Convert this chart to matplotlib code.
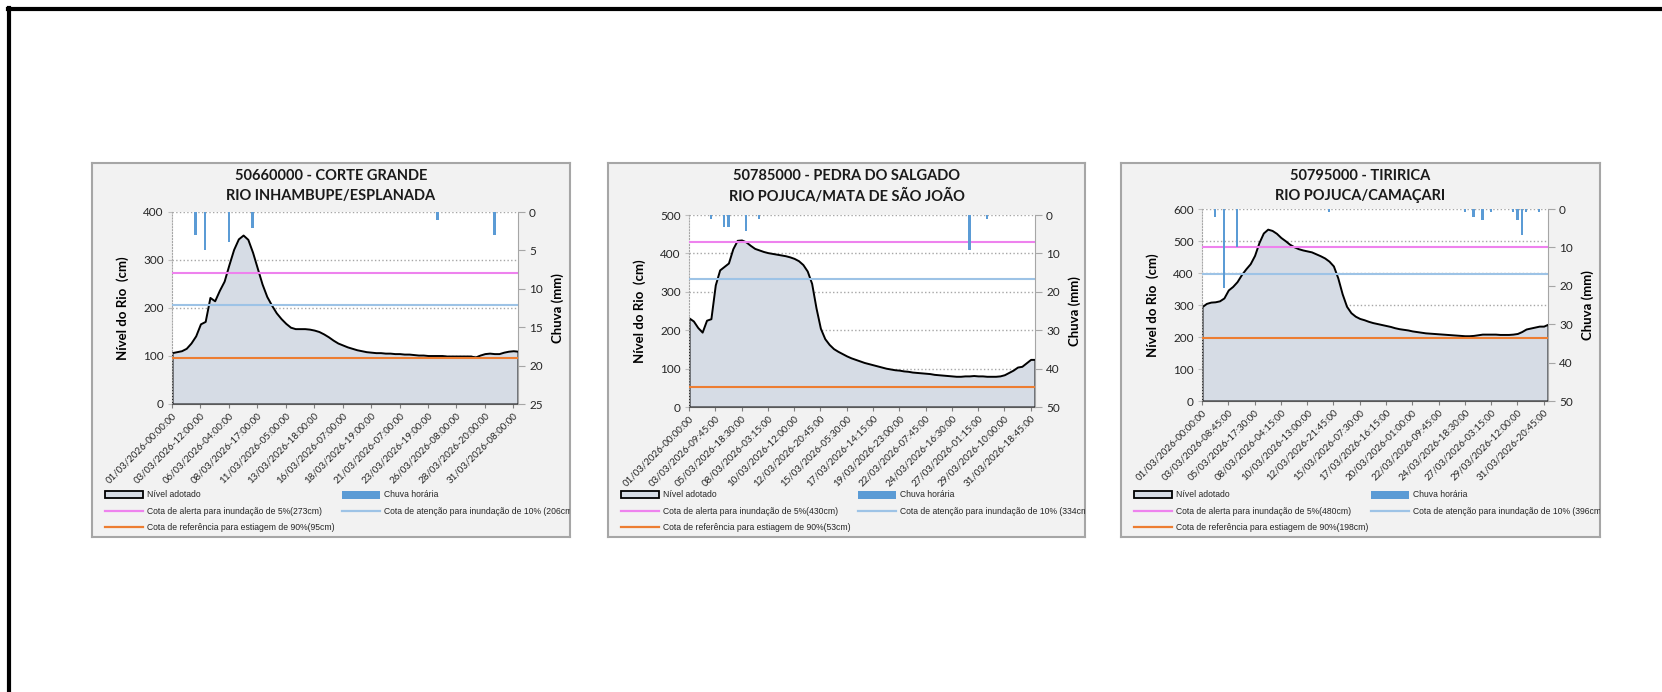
import numpy as np
import matplotlib.pyplot as plt
from matplotlib.lines import Line2D
from matplotlib.patches import Rectangle

# ---------------- dados ----------------
titulo1 = ["50660000 - CORTE GRANDE", "RIO INHAMBUPE/ESPLANADA"]
titulo2 = ["50785000 - PEDRA DO SALGADO", "RIO POJUCA/MATA DE SÃO JOÃO"]
titulo3 = ["50795000 - TIRIRICA", "RIO POJUCA/CAMAÇARI"]

rotulos1 = ["01/03/2026-00:00:00", "03/03/2026-12:00:00", "06/03/2026-04:00:00",
            "08/03/2026-17:00:00", "11/03/2026-05:00:00", "13/03/2026-18:00:00",
            "16/03/2026-07:00:00", "18/03/2026-19:00:00", "21/03/2026-07:00:00",
            "23/03/2026-19:00:00", "26/03/2026-08:00:00", "28/03/2026-20:00:00",
            "31/03/2026-08:00:00"]
rotulos2 = ["01/03/2026-00:00:00", "03/03/2026-09:45:00", "05/03/2026-18:30:00",
            "08/03/2026-03:15:00", "10/03/2026-12:00:00", "12/03/2026-20:45:00",
            "15/03/2026-05:30:00", "17/03/2026-14:15:00", "19/03/2026-23:00:00",
            "22/03/2026-07:45:00", "24/03/2026-16:30:00", "27/03/2026-01:15:00",
            "29/03/2026-10:00:00", "31/03/2026-18:45:00"]
rotulos3 = ["01/03/2026-00:00:00", "03/03/2026-08:45:00", "05/03/2026-17:30:00",
            "08/03/2026-04:15:00", "10/03/2026-13:00:00", "12/03/2026-21:45:00",
            "15/03/2026-07:30:00", "17/03/2026-16:15:00", "20/03/2026-01:00:00",
            "22/03/2026-09:45:00", "24/03/2026-18:30:00", "27/03/2026-03:15:00",
            "29/03/2026-12:00:00", "31/03/2026-20:45:00"]

# nível do rio (cm), amostrado a intervalos regulares de categoria
nivel1 = [107, 109, 111, 116, 127, 142, 167, 172, 222, 215, 237, 256, 290, 322, 344,
          352, 343, 316, 283, 250, 224, 206, 190, 178, 168, 160, 157, 157, 157, 156,
          154, 151, 146, 140, 133, 127, 123, 119, 116, 113, 111, 109, 108, 107, 107,
          106, 106, 105, 105, 104, 104, 103, 102, 102, 101, 101, 101, 101, 100, 100,
          100, 100, 100, 100, 98, 102, 105, 106, 105, 105, 108, 110, 111, 110]
nivel2 = [232, 224, 207, 195, 226, 230, 318, 357, 366, 375, 412, 434, 435, 430, 421,
          413, 409, 405, 402, 400, 398, 396, 394, 391, 387, 381, 371, 354, 322, 258,
          205, 178, 163, 152, 145, 139, 133, 128, 124, 120, 116, 113, 110, 107, 104,
          101, 99, 97, 96, 94, 93, 91, 90, 89, 88, 87, 85, 84, 83, 82,
          81, 80, 80, 81, 81, 82, 81, 81, 80, 80, 80, 81, 84, 90, 96,
          104, 106, 115, 124, 124]
nivel3 = [295, 305, 309, 310, 313, 322, 347, 358, 373, 395, 413, 429, 455, 495, 525,
          537, 533, 524, 511, 501, 490, 482, 476, 472, 469, 466, 460, 454, 447, 437,
          422, 385, 335, 296, 276, 265, 258, 254, 249, 245, 242, 239, 236, 233, 229,
          226, 224, 222, 219, 217, 215, 213, 212, 211, 210, 209, 208, 207, 206, 205,
          204, 204, 205, 207, 209, 209, 209, 209, 208, 208, 208, 209, 211, 217, 225,
          228, 231, 234, 234, 240]

# chuva horária (mm): posição na série e valor
chuva_idx1 = [5, 7, 12, 17, 56, 68]
chuva_mm1 = [3.0, 5.0, 3.9, 2.1, 1.1, 3.0]
chuva_idx2 = [5, 8, 9, 13, 16, 64, 68]
chuva_mm2 = [1.0, 3.0, 3.0, 4.1, 1.0, 9.1, 1.0]
chuva_idx3 = [3, 5, 8, 29, 60, 62, 64, 66, 71, 72, 73, 74, 77]
chuva_mm3 = [2.1, 20.6, 9.8, 0.9, 0.9, 2.1, 2.8, 0.9, 0.9, 2.8, 6.7, 0.9, 0.9]

# cotas (cm): alerta 5%, atenção 10%, estiagem 90%
cotas1 = [273, 206, 95]
cotas2 = [430, 334, 53]
cotas3 = [480, 396, 198]

ylim_nivel = [400, 500, 600]
ylim_chuva = [25, 50, 50]

# ---------------- layout ----------------
W, H = 1662, 692
FUNDO = "#f2f2f2"
COR_AREA = "#d6dce5"
COR_CHUVA = "#5b9bd5"
COR_ALERTA = "#ee82ee"
COR_ATENCAO = "#9dc3e6"
COR_ESTIAGEM = "#ed7d31"

caixas = [(92, 163, 570, 537), (608, 163, 1085, 537), (1121, 163, 1600, 537)]
areas = [(172, 212, 518, 404), (689, 215, 1035, 407), (1202, 209, 1548, 401)]


def fr(x0, y0, x1, y1):
    return [x0 / W, 1 - y1 / H, (x1 - x0) / W, (y1 - y0) / H]


fig = plt.figure(figsize=(W / 100, H / 100), dpi=100)
fig.patch.set_facecolor("white")
fig.add_artist(Line2D([8 / W, 1], [1 - 9 / H] * 2, color="black", lw=3,
                      transform=fig.transFigure))
fig.add_artist(Line2D([9 / W] * 2, [1 - 8 / H, 0], color="black", lw=3,
                      transform=fig.transFigure))

paineis = [
    (titulo1, rotulos1, nivel1, chuva_idx1, chuva_mm1, cotas1, 6),
    (titulo2, rotulos2, nivel2, chuva_idx2, chuva_mm2, cotas2, 6),
    (titulo3, rotulos3, nivel3, chuva_idx3, chuva_mm3, cotas3, 6),
]

for k, (tit, rot, niv, cidx, cmm, cotas, passo) in enumerate(paineis):
    bx0, by0, bx1, by1 = caixas[k]
    bw, bh = bx1 - bx0, by1 - by0
    bg = fig.add_axes(fr(*caixas[k]))
    bg.set_facecolor(FUNDO)
    bg.set_xlim(0, bw)
    bg.set_ylim(bh, 0)
    bg.set_xticks([])
    bg.set_yticks([])
    for s in bg.spines.values():
        s.set_color("#a6a6a6")
        s.set_linewidth(1.5)

    # título
    for j, linha in enumerate(tit):
        bg.text(bw / 2, 13 + 20 * j, linha, ha="center", va="center",
                fontsize=10.5, fontweight="bold", family="Lato", color="#1a1a1a")

    # legenda desenhada no painel (cortada na borda como no original)
    ly = [332, 348, 364]
    bg.add_patch(Rectangle((13, ly[0] - 3.5), 38, 7, facecolor=COR_AREA,
                           edgecolor="black", lw=1.3))
    bg.add_patch(Rectangle((250, ly[0] - 4), 38, 8, facecolor=COR_CHUVA,
                           edgecolor="none"))
    bg.plot([13, 51], [ly[1], ly[1]], color=COR_ALERTA, lw=1.6)
    bg.plot([250, 288], [ly[1], ly[1]], color=COR_ATENCAO, lw=1.6)
    bg.plot([13, 51], [ly[2], ly[2]], color=COR_ESTIAGEM, lw=1.6)
    textos = [
        (55, ly[0], "Nível adotado"),
        (292, ly[0], "Chuva horária"),
        (55, ly[1], "Cota de alerta para inundação de 5%(" + str(cotas[0]) + "cm)"),
        (292, ly[1], "Cota de atenção para inundação de 10% (" + str(cotas[1]) + "cm)"),
        (55, ly[2], "Cota de referência para estiagem de 90%(" + str(cotas[2]) + "cm)"),
    ]
    for tx, ty, s in textos:
        bg.text(tx, ty, s, ha="left", va="center", fontsize=6.2,
                family="Liberation Sans", color="#262626", clip_on=True)

    # eixo principal: nível
    ax = fig.add_axes(fr(*areas[k]))
    ax.set_facecolor("white")
    x = np.arange(len(niv))
    ax.fill_between(x, 0, niv, facecolor=COR_AREA, edgecolor="black",
                    linewidth=1.4, zorder=2)
    ax.axhline(cotas[0], color=COR_ALERTA, lw=1.5, zorder=3)
    ax.axhline(cotas[1], color=COR_ATENCAO, lw=1.5, zorder=3)
    ax.axhline(cotas[2], color=COR_ESTIAGEM, lw=1.5, zorder=3)
    ax.set_xlim(0, len(niv) - 1)
    ax.set_ylim(0, ylim_nivel[k])
    ax.set_yticks(np.arange(0, ylim_nivel[k] + 1, 100))
    ax.yaxis.grid(True, linestyle=":", color="#a6a6a6", lw=1.0, zorder=0)
    ax.set_axisbelow(True)
    ax.set_xticks(np.arange(len(rot)) * passo)
    ax.set_xticklabels(rot, rotation=45, ha="right", rotation_mode="anchor",
                       fontsize=7, family="Lato", color="#262626")
    ax.tick_params(axis="x", length=3, color="#7f7f7f", pad=2)
    ax.tick_params(axis="y", length=3, color="#bfbfbf", labelsize=8.5,
                   labelcolor="#262626", pad=3)
    for lab in ax.get_yticklabels():
        lab.set_family("Lato")
    ax.spines["top"].set_visible(False)
    ax.spines["right"].set_visible(False)
    ax.spines["left"].set_linestyle(":")
    ax.spines["left"].set_color("#a6a6a6")
    ax.spines["bottom"].set_color("#595959")
    ax.set_ylabel("Nível do Rio  (cm)", fontsize=9.5, fontweight="bold",
                  family="Lato", labelpad=10)

    # eixo secundário: chuva (invertido)
    ax2 = ax.twinx()
    ax2.bar(cidx, cmm, width=0.55, color=COR_CHUVA, zorder=4)
    ax2.set_ylim(ylim_chuva[k], 0)
    ax2.set_yticks(np.arange(0, ylim_chuva[k] + 1, ylim_chuva[k] // 5))
    ax2.tick_params(axis="y", length=5, color="#a6a6a6", labelsize=8.5,
                    labelcolor="#262626", pad=3)
    for lab in ax2.get_yticklabels():
        lab.set_family("Lato")
    ax2.spines["top"].set_visible(False)
    ax2.spines["left"].set_visible(False)
    ax2.spines["bottom"].set_visible(False)
    ax2.spines["right"].set_color("#a6a6a6")
    ax2.set_ylabel("Chuva (mm)", fontsize=9.5, fontweight="bold", family="Lato",
                   labelpad=6)

fig.savefig("out.png", dpi=100)
